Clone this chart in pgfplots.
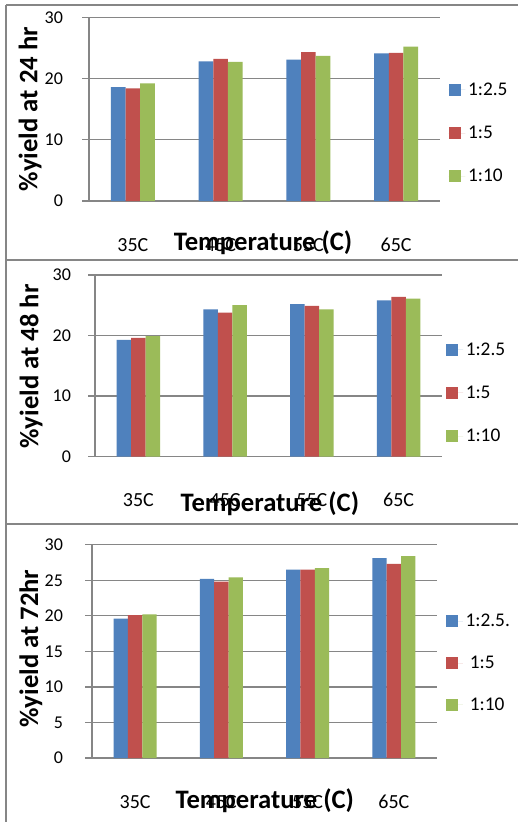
\documentclass[border=0pt]{standalone}
\usepackage{pgfplots}
\pgfplotsset{compat=1.18}
\usepackage{fontspec}
\setmainfont{Carlito}
\definecolor{cblue}{HTML}{4F81BD}
\definecolor{cred}{HTML}{C0504D}
\definecolor{cgreen}{HTML}{9BBB59}
\definecolor{cgrid}{HTML}{868686}
\pgfplotsset{
  ybar legend/.style={legend image code/.code={\fill[##1] (0pt,-4.5pt) rectangle (9pt,4.5pt); \path (0pt,0pt) -- (12.5pt,0pt);}},
  panel/.style={
    scale only axis,
    axis x line*=bottom, axis y line*=left,
    xmin=-0.5, xmax=3.5, ymin=0, ymax=30,
    xtick={0,1,2,3}, xticklabels={35C,45C,55C,65C},
    ymajorgrids, grid style={cgrid, line width=1pt},
    axis line style={cgrid, line width=1pt, -},
    xtick style={draw=none},
    ytick style={cgrid, line width=1pt},
    ytick align=outside, major tick length=5pt,
    yticklabel style={font=\fontsize{13.5}{16}\selectfont, text=black},
    xticklabel style={font=\fontsize{15}{18}\selectfont, text=black, anchor=base, yshift=-33pt},
    /pgf/number format/assume math mode=true,
    label style={font=\bfseries\fontsize{20}{24}\selectfont},
    ybar, bar width=0.16667,
    legend style={draw=none, fill=none, font=\fontsize{14.5}{17}\selectfont, row sep=17.5pt, inner sep=0pt, cells={anchor=west}, anchor=west},
  },
}
\begin{document}
\begin{tikzpicture}
\useasboundingbox (0,0) rectangle (389.25pt,-616.5pt);
\fill[white] (0,0) rectangle (389.25pt,-616.5pt);
\draw[cgrid, line width=1.5pt] (4.5pt,-3.75pt) -- (388.5pt,-3.75pt);
\draw[cgrid, line width=1.8pt] (4.5pt,-195pt) -- (388.5pt,-195pt);
\draw[cgrid, line width=1.8pt] (4.5pt,-393pt) -- (388.5pt,-393pt);
\draw[cgrid, line width=1.5pt] (4.5pt,-3.75pt) -- (4.5pt,-616.5pt);

% Panel 1: 24 hr
\begin{axis}[panel, at={(66.75pt,-150.75pt)}, anchor=south west,
  width=263.25pt, height=137.8pt,
  ytick={0,10,20,30},
  yticklabel style={anchor=east, xshift=-11pt},
  ylabel={\%yield at 24 hr},
  ylabel style={at={(axis description cs:-0.168,0.5)}, anchor=center},
  xlabel={Temperature (C)},
  xlabel style={at={(axis description cs:0.496,0)}, anchor=base, yshift=-36.75pt},
  legend style={at={(1.024,0.37)}},
]
\addplot[fill=cblue, draw=none, bar shift=-0.16667] coordinates {(0,18.6) (1,22.8) (2,23.1) (3,24.1)};
\addlegendentry{1:2.5}
\addplot[fill=cred, draw=none, bar shift=0] coordinates {(0,18.4) (1,23.2) (2,24.3) (3,24.2)};
\addlegendentry{1:5}
\addplot[fill=cgreen, draw=none, bar shift=0.16667] coordinates {(0,19.2) (1,22.7) (2,23.7) (3,25.2)};
\addlegendentry{1:10}
\end{axis}

% Panel 2: 48 hr
\begin{axis}[panel, at={(71.25pt,-342.5pt)}, anchor=south west,
  width=260.25pt, height=136.3pt,
  ytick={0,10,20,30},
  yticklabel style={anchor=east, xshift=-9.5pt},
  ylabel={\%yield at 48 hr},
  ylabel style={at={(axis description cs:-0.184,0.496)}, anchor=center},
  xlabel={Temperature (C)},
  xlabel style={at={(axis description cs:0.504,0)}, anchor=base, yshift=-41.25pt},
  xticklabel style={yshift=0.5pt},
  legend style={at={(1.012,0.351)}},
]
\addplot[fill=cblue, draw=none, bar shift=-0.16667] coordinates {(0,19.3) (1,24.3) (2,25.2) (3,25.8)};
\addlegendentry{1:2.5}
\addplot[fill=cred, draw=none, bar shift=0] coordinates {(0,19.6) (1,23.8) (2,24.9) (3,26.4)};
\addlegendentry{1:5}
\addplot[fill=cgreen, draw=none, bar shift=0.16667] coordinates {(0,19.9) (1,25.0) (2,24.3) (3,26.1)};
\addlegendentry{1:10}
\end{axis}

% Panel 3: 72 hr
\begin{axis}[panel, at={(69pt,-568.5pt)}, anchor=south west,
  width=258.75pt, height=160pt,
  ytick={0,5,10,15,20,25,30},
  yticklabel style={anchor=east, xshift=-13.3pt},
  ylabel={\%yield at 72hr},
  ylabel style={at={(axis description cs:-0.177,0.513)}, anchor=center},
  xlabel={Temperature (C)},
  xlabel style={at={(axis description cs:0.501,0)}, anchor=base, yshift=-37.5pt},
  legend style={at={(1.026,0.445)}, row sep=16.5pt},
]
\addplot[fill=cblue, draw=none, bar shift=-0.16667] coordinates {(0,19.6) (1,25.2) (2,26.5) (3,28.1)};
\addlegendentry{1:2.5.}
\addplot[fill=cred, draw=none, bar shift=0] coordinates {(0,20.1) (1,24.8) (2,26.5) (3,27.3)};
\addlegendentry{\ 1:5}
\addplot[fill=cgreen, draw=none, bar shift=0.16667] coordinates {(0,20.2) (1,25.4) (2,26.7) (3,28.4)};
\addlegendentry{\ 1:10}
\end{axis}
\end{tikzpicture}
\end{document}
